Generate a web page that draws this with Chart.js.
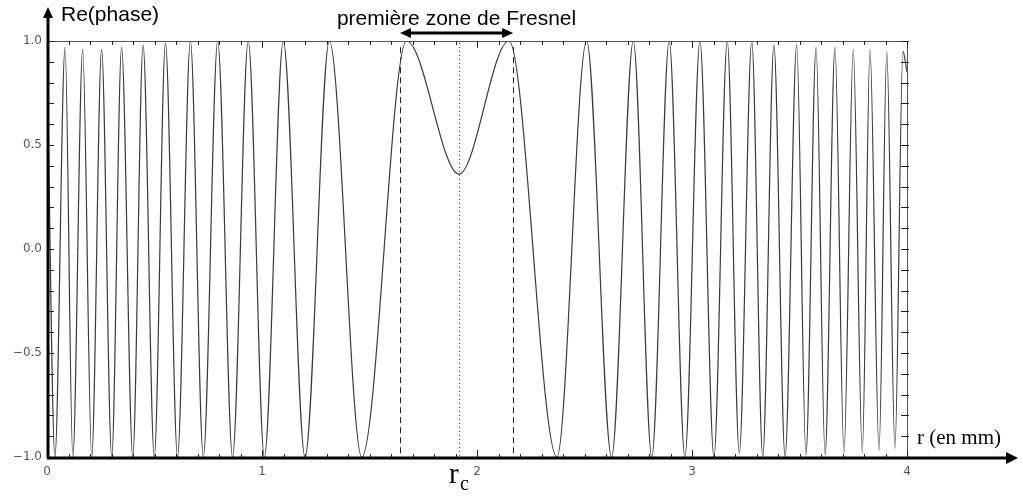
<!DOCTYPE html>
<html>
<head>
<meta charset="utf-8">
<script src="https://cdn.jsdelivr.net/npm/chart.js@4/dist/chart.umd.min.js"></script>
<style>
  html, body { margin: 0; padding: 0; background: #fff; }
  #wrap { width: 1023px; height: 496px; position: relative; }
</style>
</head>
<body>
<div id="wrap"><canvas id="chartPhase"></canvas></div>
<script>
// extrema of Re(phase) (r in mm)
const rValues = [
  0.000, 0.037, 0.084, 0.120, 0.166, 0.208, 0.254, 0.301, 0.347, 0.399,
  0.447, 0.499, 0.551, 0.607, 0.667, 0.727, 0.794, 0.863, 0.936, 1.011,
  1.099, 1.200, 1.313, 1.464, 1.672, 1.916, 2.149, 2.372, 2.510, 2.626,
  2.727, 2.813, 2.894, 2.967, 3.037, 3.102, 3.164, 3.220, 3.278, 3.329,
  3.381, 3.433, 3.487, 3.530, 3.577, 3.619, 3.665, 3.707, 3.750, 3.792,
  3.828, 3.870, 3.906, 3.944, 3.981, 4.000
];
const phaseValues = [
  0.95, -1.00, 0.97, -1.00, 0.96, -1.00, 0.96, -1.00, 0.97, -1.00,
  0.98, -1.00, 0.99, -1.00, 1.00, -1.00, 1.00, -1.00, 1.00, -1.00,
  1.00, -1.00, 1.00, -1.00, 1.00, 0.36, 1.00, -1.00, 1.00, -1.00,
  1.00, -1.00, 1.00, -1.00, 1.00, -1.00, 1.00, -0.98, 1.00, -1.00,
  0.98, -1.00, 0.98, -0.99, 0.97, -0.99, 0.97, -0.98, 0.96, -0.98,
  0.96, -0.97, 0.95, -0.96, 0.95, 0.85
];
const xTickLabels = ["0", "1", "2", "3", "4"];
const yTickValues = [-1.0, -0.5, 0.0, 0.5, 1.0];
const fresnelEdges = [1.642, 2.168];   // dashed lines / arrow ends
const rcValue = 1.916;                 // dotted line

const points = rValues.map((r, i) => ({ x: r, y: phaseValues[i] }));

function arrowHead(ctx, tipX, tipY, dx, dy, len, half) {
  // dx, dy = unit direction of the arrow
  ctx.beginPath();
  ctx.moveTo(tipX, tipY);
  ctx.lineTo(tipX - dx * len - dy * half, tipY - dy * len + dx * half);
  ctx.lineTo(tipX - dx * len + dy * half, tipY - dy * len - dx * half);
  ctx.closePath();
  ctx.fill();
}

const decorations = {
  id: "decorations",
  beforeDatasetsDraw(chart) {
    const ctx = chart.ctx;
    const xs = chart.scales.x, ys = chart.scales.y;
    const a = chart.chartArea;
    ctx.save();
    // dashed lines at the first Fresnel zone edges
    ctx.strokeStyle = "#222";
    ctx.lineWidth = 1;
    ctx.setLineDash([6, 4]);
    fresnelEdges.forEach(v => {
      const px = Math.round(xs.getPixelForValue(v)) + 0.5;
      ctx.beginPath();
      ctx.moveTo(px, ys.getPixelForValue(0.97));
      ctx.lineTo(px, a.bottom);
      ctx.stroke();
    });
    // dotted line at rc
    ctx.setLineDash([1, 3]);
    ctx.strokeStyle = "#444";
    const pc = Math.round(xs.getPixelForValue(rcValue)) + 0.5;
    ctx.beginPath();
    ctx.moveTo(pc, a.top + 2);
    ctx.lineTo(pc, a.bottom);
    ctx.stroke();
    ctx.restore();
  },
  afterDraw(chart) {
    const ctx = chart.ctx;
    const xs = chart.scales.x, ys = chart.scales.y;
    const a = chart.chartArea;
    ctx.save();

    // frame: top and right thin lines
    ctx.strokeStyle = "#555";
    ctx.lineWidth = 1;
    ctx.beginPath();
    ctx.moveTo(a.left, a.top + 0.5);
    ctx.lineTo(a.right, a.top + 0.5);
    ctx.moveTo(a.right + 0.5, a.top);
    ctx.lineTo(a.right + 0.5, a.bottom);
    ctx.stroke();

    // minor ticks
    ctx.strokeStyle = "#222";
    for (let i = 0; i <= 40; i++) {
      const v = i / 10;
      const px = Math.round(xs.getPixelForValue(v)) + 0.5;
      const major = i % 10 === 0;
      ctx.beginPath();
      ctx.moveTo(px, a.bottom);
      ctx.lineTo(px, a.bottom - (major ? 7 : 3));
      ctx.moveTo(px, a.top);
      ctx.lineTo(px, a.top + (major ? 7 : 4));
      ctx.stroke();
    }
    for (let i = -10; i <= 10; i++) {
      const py = Math.round(ys.getPixelForValue(i / 10)) + 0.5;
      ctx.beginPath();
      ctx.moveTo(a.left, py);
      ctx.lineTo(a.left + 7, py);
      ctx.moveTo(a.right - 6, py);
      ctx.lineTo(a.right + 2, py);
      ctx.stroke();
    }

    // thick axes with arrows
    ctx.strokeStyle = "#000";
    ctx.fillStyle = "#000";
    ctx.lineWidth = 3;
    ctx.beginPath();
    ctx.moveTo(a.left + 1, a.bottom + 1);
    ctx.lineTo(a.left + 1, 16);
    ctx.moveTo(a.left, a.bottom + 1);
    ctx.lineTo(1008, a.bottom + 1);
    ctx.stroke();
    arrowHead(ctx, a.left + 1, 7, 0, -1, 11, 5);
    arrowHead(ctx, 1018, a.bottom + 1, 1, 0, 12, 6);

    // double arrow for the first Fresnel zone
    const x1 = xs.getPixelForValue(fresnelEdges[0]);
    const x2 = xs.getPixelForValue(fresnelEdges[1]);
    ctx.lineWidth = 3;
    ctx.beginPath();
    ctx.moveTo(x1 + 8, 33);
    ctx.lineTo(x2 - 8, 33);
    ctx.stroke();
    arrowHead(ctx, x1, 33, -1, 0, 11, 5);
    arrowHead(ctx, x2, 33, 1, 0, 11, 5);

    // texts
    ctx.fillStyle = "#000";
    ctx.textBaseline = "alphabetic";
    ctx.textAlign = "left";
    ctx.font = "21px 'Liberation Sans', Arial, sans-serif";
    ctx.fillText("Re(phase)", 61, 21);
    ctx.textAlign = "center";
    ctx.fillText("première zone de Fresnel", (x1 + x2) / 2, 25);
    ctx.textAlign = "left";
    ctx.font = "21px 'Liberation Serif', 'Times New Roman', serif";
    ctx.fillText("r (en mm)", 917, 444);
    const pc = xs.getPixelForValue(rcValue);
    ctx.font = "29px 'Liberation Serif', 'Times New Roman', serif";
    ctx.fillText("r", pc - 10, 483);
    ctx.font = "20px 'Liberation Serif', 'Times New Roman', serif";
    ctx.fillText("c", pc + 1, 490);
    ctx.restore();
  }
};

const ctxPhase = document.getElementById("chartPhase").getContext("2d");
new Chart(ctxPhase, {
  type: "line",
  data: {
    datasets: [{
      label: "Re(phase)",
      data: points,
      borderColor: "#3a3a3a",
      borderWidth: 1.2,
      pointRadius: 0,
      cubicInterpolationMode: "monotone",
      fill: false
    }]
  },
  options: {
    responsive: true,
    maintainAspectRatio: false,
    animation: false,
    layout: { padding: { top: 41, right: 116, left: 0, bottom: 0 } },
    plugins: { legend: { display: false }, tooltip: { enabled: false } },
    scales: {
      x: {
        type: "linear",
        min: 0,
        max: 4,
        grid: { display: false, drawTicks: false },
        border: { display: false },
        ticks: {
          stepSize: 1,
          padding: 8,
          color: "#555",
          font: { family: "'DejaVu Sans'", size: 12 },
          maxRotation: 0,
          callback: v => xTickLabels[v]
        },
        afterFit: s => { s.height = 39; }
      },
      y: {
        min: -1,
        max: 1,
        grid: { display: false, drawTicks: false },
        border: { display: false },
        afterBuildTicks: s => { s.ticks = yTickValues.map(v => ({ value: v })); },
        ticks: {
          padding: 5,
          color: "#555",
          font: { family: "'DejaVu Sans'", size: 12 },
          callback: v => v.toFixed(1).replace("-", "\u2212")
        },
        afterFit: s => { s.width = 47; }
      }
    }
  },
  plugins: [decorations]
});
</script>
</body>
</html>
